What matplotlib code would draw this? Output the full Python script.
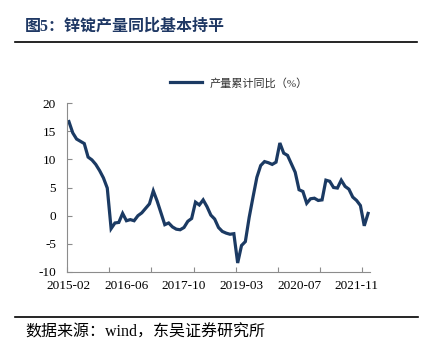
import numpy as np
import matplotlib
matplotlib.use('Agg')
import matplotlib.pyplot as plt

plt.rcParams['axes.unicode_minus'] = False

# 锌锭产量累计同比 (%), monthly, January merged into February
values = [16.7, 14.7, 13.6, 13.2, 12.8, 10.4, 9.9, 9.1, 8.0, 6.7,
          4.9, -2.3, -1.3, -1.2, 0.4, -0.9, -0.7, -0.9, 0.0, 0.5,
          1.3, 2.1, 4.4, 2.6, 0.5, -1.6, -1.3, -2.0, -2.4, -2.5,
          -2.1, -1.0, -0.5, 2.4, 1.9, 2.8, 1.6, 0.1, -0.6, -2.1,
          -2.8, -3.1, -3.3, -3.2, -8.4, -5.3, -4.6, -0.3, 3.3, 6.8,
          8.9, 9.6, 9.4, 9.1, 9.5, 12.9, 11.1, 10.7, 9.2, 7.7,
          4.6, 4.3, 2.2, 3.0, 3.1, 2.7, 2.8, 6.3, 6.1, 5.0,
          4.9, 6.3, 5.2, 4.7, 3.3, 2.7, 1.8, -1.8, 0.4]
tick_labels = ['2015-02', '2016-06', '2017-10', '2019-03', '2020-07', '2021-11']
label_step = 15   # categories between labels
year_step = 11    # categories between tick marks
series_name = '产量累计同比（%）'
title = '图5：锌锭产量同比基本持平'
source = '数据来源：wind，东吴证券研究所'

navy = '#1b3a63'
mixed = ['Liberation Serif', 'Noto Sans CJK SC']

fig = plt.figure(figsize=(4.32, 3.53), dpi=100)
ax = fig.add_axes([67/432, 1-272/353, 303/432, 169/353])

x = np.arange(len(values))
line, = ax.plot(x, values, color=navy, lw=2.3, solid_joinstyle='miter')

ax.set_xlim(-0.5, len(values) - 0.5)
ax.set_ylim(-10, 20)
ax.set_yticks(np.arange(-10, 21, 5))
ax.set_xticks(np.arange(-0.5, len(values), year_step))
ax.set_xticklabels([])
ax.set_xticks(np.arange(0, len(values), label_step)[:len(tick_labels)], minor=True)
ax.set_xticklabels(tick_labels, minor=True)

for s in ['top', 'right']:
    ax.spines[s].set_visible(False)
for s in ['left', 'bottom']:
    ax.spines[s].set_color('#8c8c8c')
    ax.spines[s].set_linewidth(0.8)

ax.tick_params(axis='both', which='major', direction='in', length=3.5,
               color='#8c8c8c', width=0.8, labelsize=9.5)
ax.tick_params(axis='y', pad=8)
ax.tick_params(axis='x', which='minor', length=0, pad=6, labelsize=9.5)
for lab in ax.get_xticklabels(minor=True) + ax.get_yticklabels():
    lab.set_family('Liberation Serif')

leg = fig.legend([line], [series_name], loc='center left', bbox_to_anchor=(160/432, 1-83/353),
                 frameon=False, handlelength=2.9, handletextpad=0.7,
                 prop={'family': mixed, 'size': 8})
leg.get_texts()[0].set_color('#333333')

fig.text(25/432, 1-27/353, title, family=['Liberation Serif', 'Noto Sans CJK SC'],
         fontweight='bold', fontsize=11.5, color='#1f3864', va='center', ha='left')
fig.add_artist(plt.Line2D([15/432, 417/432], [1-42/353, 1-42/353], color='black', lw=1.2))
fig.add_artist(plt.Line2D([15/432, 418/432], [1-317/353, 1-317/353], color='black', lw=1.2))
fig.text(25/432, 1-333/353, source, family=mixed, fontsize=11.5, color='black',
         va='center', ha='left')

fig.savefig('out.png', dpi=100)
